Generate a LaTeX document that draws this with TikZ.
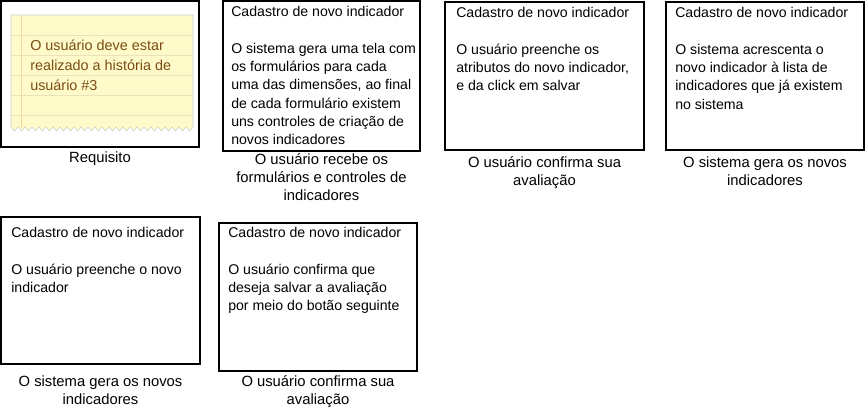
\documentclass[tikz,border=0pt]{standalone}
\usepackage{fontspec}
\setmainfont{Liberation Sans}
\usetikzlibrary{calc,positioning}
\usepackage{xcolor}
\definecolor{notefill}{RGB}{255,250,202}
\definecolor{noteline}{RGB}{234,226,184}
\definecolor{notemargin}{RGB}{246,214,160}
\definecolor{noteedge}{RGB}{205,205,205}
\definecolor{notetxt}{RGB}{122,78,18}
\newcommand{\cardfont}{\fontsize{10.6}{13.7}\selectfont}
\newcommand{\capfont}{\fontsize{11.1}{13.5}\selectfont}
\newcommand{\cardstrut}{\rule{0pt}{8.5pt}}

\begin{document}
\begin{tikzpicture}[x=0.75pt,y=-0.75pt,
  card/.style={draw=black,line width=1.5pt},
  cardtext/.style={anchor=north west,inner sep=0pt,align=left,font=\cardfont},
  caption/.style={anchor=north,inner sep=0pt,align=center,font=\capfont}]
\useasboundingbox (0,0) rectangle (866,408);

% requisito
\coordinate (req) at (1,1);
\draw [card] (req) rectangle ++(198,146);
\fill [notefill] ($(req)+(10,14)$) -- ++(182,0) -- ++(0,112)
  \foreach \i in {1,...,26} { -- ++(-3.5,4) -- ++(-3.5,-4) } -- cycle;
\foreach \y in {34,54,...,114}
  \draw [noteline] ($(req)+(10,\y)$) -- ++(182,0);
\draw [notemargin] ($(req)+(20,14)$) -- ++(0,113);
\draw [noteedge] ($(req)+(10,126)$) -- ++(0,-112) -- ++(182,0) -- ++(0,112)
  \foreach \i in {1,...,26} { -- ++(-3.5,4) -- ++(-3.5,-4) };
\node [cardtext,text=notetxt,font=\fontsize{10.8}{15}\selectfont] (reqtext) at ($(req)+(29,37.7)$)
  {\cardstrut O usuário deve estar\\realizado a história de\\usuário \#3};
\node [caption] (reqcap) at ($(req)+(99,150.2)$) {\cardstrut Requisito};

% passos
\coordinate (s1) at (223,1);
\draw [card] (s1) rectangle ++(197,150);
\node [cardtext] (s1text) at ($(s1)+(8,4.2)$) {\cardstrut Cadastro de novo indicador\\[13.7pt]
  O sistema gera uma tela com\\os formulários para cada\\uma das dimensões, ao final\\de cada formulário existem\\uns controles de criação de\\novos indicadores};
\node [caption] (s1cap) at ($(s1)+(98.5,152.2)$) {\cardstrut O usuário recebe os\\formulários e controles de\\indicadores};

\coordinate (s2) at (445,2);
\draw [card] (s2) rectangle ++(199,148);
\node [cardtext] (s2text) at ($(s2)+(11,4.2)$) {\cardstrut Cadastro de novo indicador\\[13.7pt]
  O usuário preenche os\\atributos do novo indicador,\\e da click em salvar};
\node [caption] (s2cap) at ($(s2)+(99.5,154.2)$) {\cardstrut O usuário confirma sua\\avaliação};

\coordinate (s3) at (666,2);
\draw [card] (s3) rectangle ++(198,148);
\node [cardtext] (s3text) at ($(s3)+(9,4.2)$) {\cardstrut Cadastro de novo indicador\\[13.7pt]
  O sistema acrescenta o\\novo indicador à lista de\\indicadores que já existem\\no sistema};
\node [caption] (s3cap) at ($(s3)+(99,154.2)$) {\cardstrut O sistema gera os novos\\indicadores};

\coordinate (s4) at (1,217);
\draw [card] (s4) rectangle ++(199,147);
\node [cardtext] (s4text) at ($(s4)+(10,9.2)$) {\cardstrut Cadastro de novo indicador\\[13.7pt]
  O usuário preenche o novo\\indicador};
\node [caption] (s4cap) at ($(s4)+(99.5,157.8)$) {\cardstrut O sistema gera os novos\\indicadores};

\coordinate (s5) at (219,223);
\draw [card] (s5) rectangle ++(198,148);
\node [cardtext] (s5text) at ($(s5)+(9,3.2)$) {\cardstrut Cadastro de novo indicador\\[13.7pt]
  O usuário confirma que\\deseja salvar a avaliação\\por meio do botão seguinte};
\node [caption] (s5cap) at ($(s5)+(99,152)$) {\cardstrut O usuário confirma sua\\avaliação};
\end{tikzpicture}
\end{document}
